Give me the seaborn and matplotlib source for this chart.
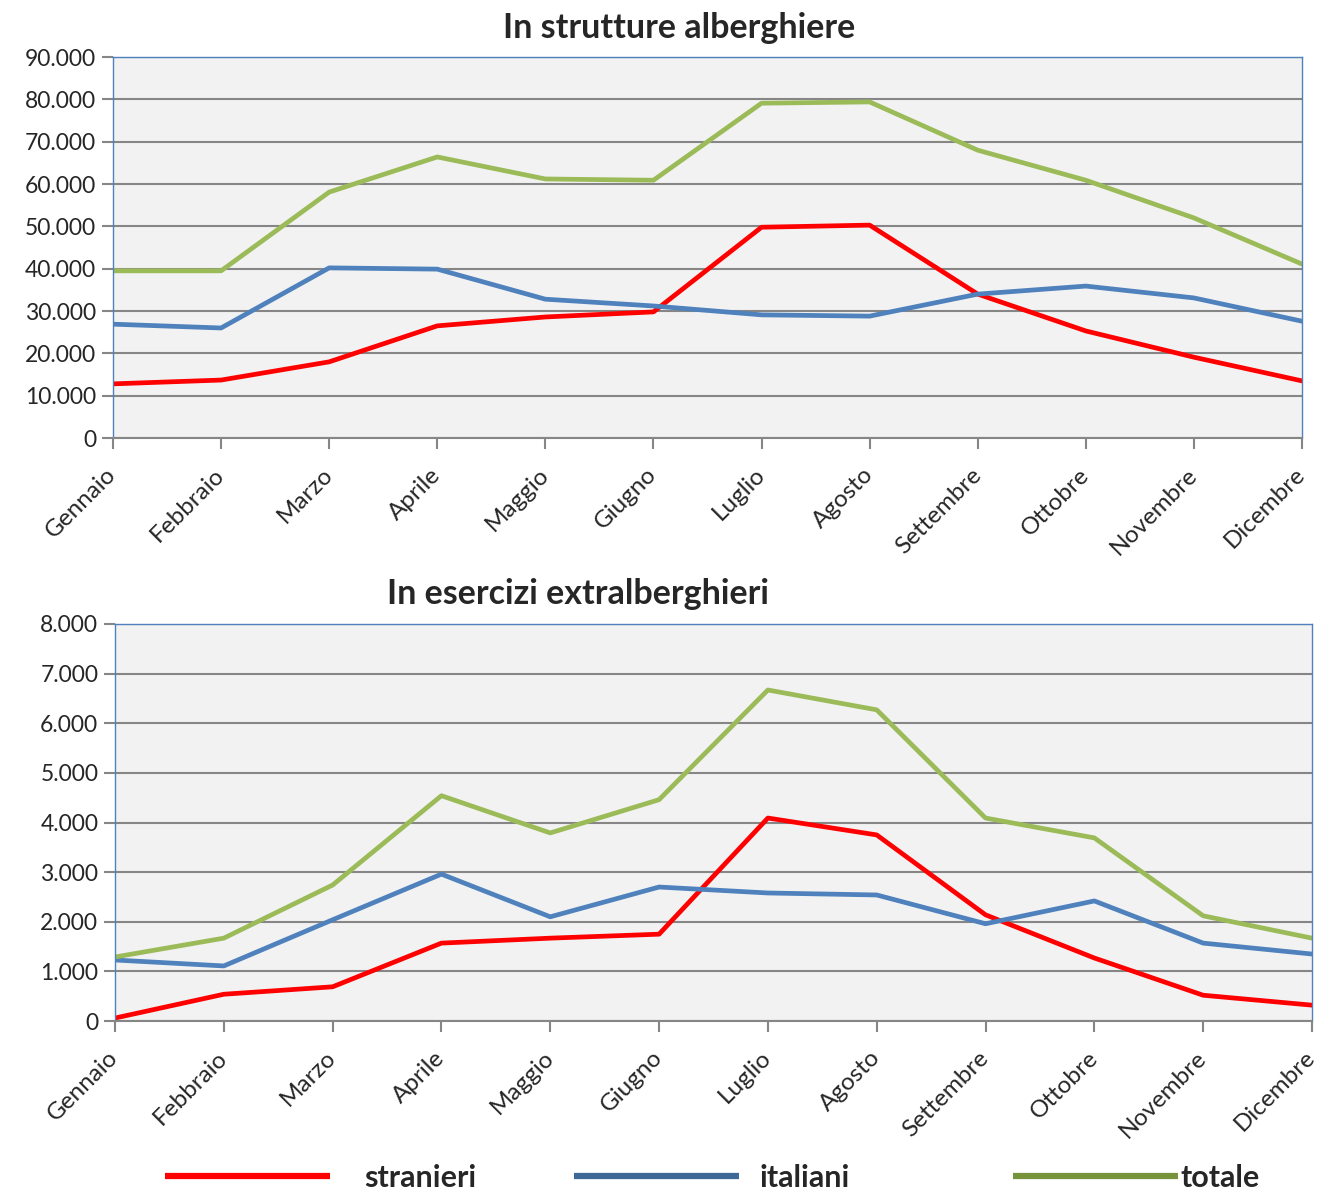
import matplotlib
matplotlib.use('Agg')
import matplotlib.pyplot as plt
from matplotlib.lines import Line2D
from matplotlib.ticker import FuncFormatter, MultipleLocator
import seaborn as sns
import pandas as pd

mesi = ['Gennaio', 'Febbraio', 'Marzo', 'Aprile', 'Maggio', 'Giugno',
        'Luglio', 'Agosto', 'Settembre', 'Ottobre', 'Novembre', 'Dicembre']

# In strutture alberghiere
alb_stranieri = [12800, 13700, 18000, 26500, 28600, 29800, 49800, 50300, 34000, 25300, 19100, 13500]
alb_italiani = [26900, 26000, 40200, 39900, 32800, 31200, 29100, 28800, 34000, 35900, 33100, 27600]
alb_totale = [39500, 39500, 58100, 66400, 61200, 60900, 79100, 79400, 68000, 60900, 52000, 41100]

# In esercizi extralberghieri
ext_stranieri = [60, 540, 690, 1570, 1670, 1750, 4090, 3750, 2140, 1270, 520, 320]
ext_italiani = [1230, 1110, 2040, 2960, 2100, 2700, 2580, 2540, 1960, 2420, 1570, 1350]
ext_totale = [1290, 1670, 2740, 4540, 3790, 4460, 6670, 6270, 4090, 3690, 2120, 1670]

serie = ['stranieri', 'italiani', 'totale']
colori = {'stranieri': '#FF0000', 'italiani': '#4F81BD', 'totale': '#9BBB59'}
colori_legenda = ['#FF0000', '#3F6797', '#77933C']

sns.set_style('white')
plt.rcParams['font.family'] = ['Lato', 'DejaVu Sans']

fig = plt.figure(figsize=(13.17, 11.91), dpi=100)


def fmt_migliaia(v, pos):
    return f'{int(round(v)):,}'.replace(',', '.')


def disegna(ax, titolo, stranieri, italiani, totale, ymax, passo, xtitolo):
    df = pd.DataFrame({'valore': stranieri + italiani + totale,
                       'serie': [s for s in serie for _ in mesi]})
    df['x'] = list(range(len(mesi))) * 3
    sns.lineplot(data=df, x='x', y='valore', hue='serie', palette=colori,
                 linewidth=3.4, ax=ax, legend=False, sort=False)
    ax.set_facecolor('#F2F2F2')
    ax.set_xlim(0, len(mesi) - 1)
    ax.set_ylim(0, ymax)
    ax.yaxis.set_major_locator(MultipleLocator(passo))
    ax.yaxis.set_major_formatter(FuncFormatter(fmt_migliaia))
    ax.set_xticks(range(len(mesi)))
    ax.set_xticklabels(mesi, rotation=45, ha='right', va='center',
                       rotation_mode='anchor')
    ax.grid(axis='y', color='#868686', linewidth=1.5)
    ax.set_axisbelow(True)
    ax.tick_params(axis='both', direction='out', length=8, width=1.5,
                   color='#868686', left=True, bottom=True)
    ax.tick_params(axis='y', labelsize=16.5, pad=4)
    ax.tick_params(axis='x', labelsize=17.5, pad=16)
    for s in ['top', 'right', 'left']:
        ax.spines[s].set_color('#4F81BD')
        ax.spines[s].set_linewidth(1)
    ax.spines['bottom'].set_color('#868686')
    ax.spines['bottom'].set_linewidth(1.5)
    ax.set_xlabel('')
    ax.set_ylabel('')
    ax.text(xtitolo, 1.075, titolo, transform=ax.transAxes, ha='center',
            va='center', fontsize=24.5, fontweight='bold')


ax1 = fig.add_axes([0.0858, 0.6322, 0.9028, 0.3199])
disegna(ax1, 'In strutture alberghiere', alb_stranieri, alb_italiani, alb_totale,
        90000, 10000, 0.476)

ax2 = fig.add_axes([0.0873, 0.1427, 0.9089, 0.3334])
disegna(ax2, 'In esercizi extralberghieri', ext_stranieri, ext_italiani, ext_totale,
        8000, 1000, 0.387)

# legenda in basso
pos_legenda = [0.1255, 0.436, 0.769]
pad_legenda = [1.1, 0.65, 0.1]
for nome, col, px, pad in zip(serie, colori_legenda, pos_legenda, pad_legenda):
    h = Line2D([], [], color=col, linewidth=4.5, solid_capstyle='butt')
    fig.legend([h], [nome], loc='center left', bbox_to_anchor=(px, 0.011),
               frameon=False, handlelength=5.4, handletextpad=pad,
               prop={'size': 22, 'weight': 'bold'}, borderaxespad=0, borderpad=0)

fig.savefig('out.png', dpi=100)
